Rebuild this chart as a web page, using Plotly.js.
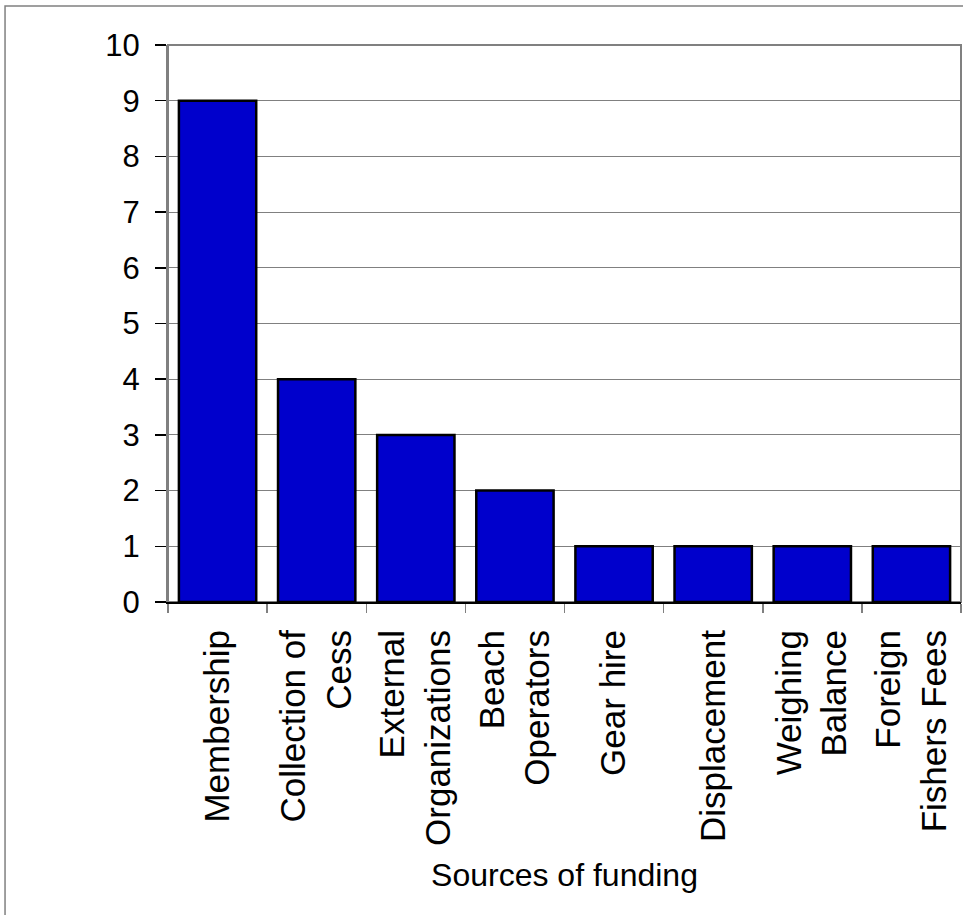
<!DOCTYPE html>
<html>
<head>
<meta charset="utf-8">
<script src="https://cdn.plot.ly/plotly-3.0.1.min.js"></script>
<style>
  html, body { margin: 0; padding: 0; background: #fff; }
  #chart { width: 963px; height: 915px; }
</style>
</head>
<body>
<div id="chart"></div>
<script>
const categories = [
  "Membership",
  "Collection of<br>Cess",
  "External<br>Organizations",
  "Beach<br>Operators",
  "Gear hire",
  "Displacement",
  "Weighing<br>Balance",
  "Foreign<br>Fishers Fees"
];
const counts = [9, 4, 3, 2, 1, 1, 1, 1];
const yTickValues = [0, 1, 2, 3, 4, 5, 6, 7, 8, 9, 10];
const xTitle = "Sources of funding";

const FONT = "Liberation Sans, Arial, sans-serif";

const trace = {
  type: "bar",
  x: categories,
  y: counts,
  marker: { color: "#0000CC", line: { color: "#000000", width: 2.5 } },
  hoverinfo: "x+y"
};

const layout = {
  width: 963,
  height: 915,
  margin: { l: 168, r: 2, t: 45, b: 313, pad: 0 },
  paper_bgcolor: "#ffffff",
  plot_bgcolor: "#ffffff",
  showlegend: false,
  bargap: 0.22,
  font: { family: FONT, color: "#000000" },
  xaxis: {
    type: "category",
    tickangle: -90,
    tickfont: { family: FONT, size: 35, color: "#000000" },
    ticks: "outside",
    tickson: "boundaries",
    ticklen: 9,
    tickwidth: 1.5,
    tickcolor: "#808080",
    ticklabelstandoff: 12,
    showline: true,
    linecolor: "#000000",
    linewidth: 2,
    showgrid: false,
    zeroline: false,
    automargin: false,
    title: { text: xTitle, font: { family: FONT, size: 32, color: "#000000" }, standoff: 19 }
  },
  yaxis: {
    range: [0, 10],
    tickvals: yTickValues,
    ticktext: yTickValues.map(String),
    tickfont: { family: FONT, size: 31, color: "#000000" },
    ticks: "outside",
    ticklen: 11,
    tickwidth: 1.5,
    tickcolor: "#000000",
    ticklabelstandoff: 9,
    showline: true,
    linecolor: "#808080",
    linewidth: 2,
    showgrid: true,
    gridcolor: "#808080",
    gridwidth: 1,
    zeroline: false,
    automargin: false
  },
  shapes: [
    {
      type: "rect", xref: "paper", yref: "paper", layer: "below",
      x0: 0, x1: 1, y0: 0, y1: 1,
      line: { color: "#808080", width: 2 }
    },
    {
      type: "rect", xref: "paper", yref: "paper", layer: "below",
      x0: -0.2055, x1: 1.2, y0: -1, y1: 1.070,
      line: { color: "#808080", width: 1.5 }
    }
  ]
};

Plotly.newPlot("chart", [trace], layout, { displayModeBar: false, staticPlot: true });
</script>
</body>
</html>
